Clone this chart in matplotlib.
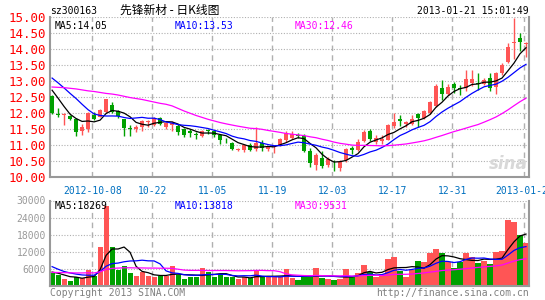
import numpy as np
import pandas as pd
import matplotlib
matplotlib.use("Agg")
import matplotlib.pyplot as plt

# daily data, 80 trading days (2012-09-20 .. 2013-01-21)
opens = [12.55, 11.99, 11.93, 11.92, 11.82, 11.45, 11.52, 11.96, 11.89, 12.04,
         12.26, 12.06, 11.81, 11.54, 11.50, 11.57, 11.72, 11.64, 11.85, 11.57,
         11.62, 11.59, 11.51, 11.46, 11.36, 11.29, 11.48, 11.43, 11.32, 11.17,
         11.06, 10.85, 10.84, 11.01, 10.87, 11.06, 10.88, 10.94, 11.00, 11.15,
         11.23, 11.33, 11.29, 10.82, 10.37, 10.61, 10.39, 10.36, 10.28, 10.54,
         10.90, 10.86, 11.14, 11.45, 11.10, 11.12, 11.17, 11.61, 11.81, 11.65,
         11.67, 11.98, 11.85, 12.00, 12.24, 12.78, 12.60, 12.92, 12.80, 12.78,
         12.93, 12.94, 12.92, 13.09, 12.83, 13.25, 13.61, 14.21, 14.36, 14.16]
highs = [12.58, 12.15, 12.02, 11.95, 11.84, 11.66, 12.03, 12.04, 12.14, 12.45,
         12.35, 12.10, 11.83, 11.62, 11.62, 11.78, 11.79, 11.87, 11.88, 11.73,
         11.77, 11.65, 11.53, 11.51, 11.41, 11.48, 11.51, 11.48, 11.35, 11.22,
         11.09, 10.90, 11.04, 11.06, 11.58, 11.15, 10.99, 11.00, 11.22, 11.46,
         11.43, 11.38, 11.34, 10.90, 10.75, 10.82, 10.62, 10.54, 10.54, 10.91,
         10.99, 11.18, 11.48, 11.50, 11.32, 11.32, 11.66, 12.00, 11.95, 11.76,
         11.95, 12.00, 12.10, 12.38, 12.90, 13.04, 12.90, 12.99, 12.88, 13.35,
         13.35, 13.25, 13.09, 13.25, 13.28, 13.56, 14.19, 14.97, 14.50, 14.24]
lows = [11.98, 11.89, 11.63, 11.80, 11.30, 11.31, 11.40, 11.78, 11.87, 12.00,
        12.00, 11.85, 11.29, 11.29, 11.40, 11.43, 11.58, 11.60, 11.63, 11.52,
        11.46, 11.31, 11.25, 11.27, 11.20, 11.25, 11.35, 11.27, 11.04, 11.07,
        10.86, 10.83, 10.78, 10.83, 10.83, 10.83, 10.83, 10.75, 10.96, 11.11,
        11.18, 11.22, 10.78, 10.33, 10.21, 10.28, 10.33, 10.20, 10.20, 10.49,
        10.72, 10.82, 11.10, 11.12, 11.03, 11.05, 11.15, 11.53, 11.60, 11.58,
        11.62, 11.58, 11.82, 11.97, 12.20, 12.42, 12.56, 12.63, 12.57, 12.70,
        12.86, 12.73, 12.88, 12.68, 12.60, 13.20, 13.58, 13.70, 13.95, 13.77]
closes = [12.02, 11.95, 11.97, 11.83, 11.40, 11.57, 12.02, 11.83, 12.10, 12.44,
          12.04, 11.90, 11.54, 11.52, 11.57, 11.75, 11.75, 11.85, 11.66, 11.68,
          11.70, 11.42, 11.33, 11.39, 11.33, 11.43, 11.43, 11.31, 11.17, 11.15,
          10.89, 10.88, 11.01, 10.86, 11.07, 10.90, 10.96, 10.96, 11.18, 11.39,
          11.35, 11.29, 10.82, 10.43, 10.70, 10.34, 10.56, 10.34, 10.49, 10.89,
          10.86, 11.11, 11.41, 11.20, 11.24, 11.19, 11.64, 11.74, 11.75, 11.72,
          11.82, 11.85, 12.07, 12.34, 12.86, 12.60, 12.83, 12.78, 12.77, 13.06,
          13.06, 12.91, 13.05, 12.78, 13.25, 13.51, 14.06, 14.24, 14.24, 14.19]
volumes = [4720, 3930, 2450, 1970, 3140, 2790, 5800, 3590, 13930, 28070,
           13930, 5800, 7030, 4720, 3590, 5070, 3590, 3240, 3590, 3590,
           7030, 3930, 2450, 3140, 3140, 6450, 5070, 3140, 4380, 3240,
           3240, 2450, 3140, 2790, 5420, 3240, 3140, 3140, 3130, 6000,
           3000, 2200, 3350, 3350, 6340, 3010, 2550, 2210, 2670, 6000,
           3130, 4700, 7400, 5000, 3240, 4300, 9500, 10300, 5500, 3400,
           5800, 8800, 8400, 11500, 13200, 11800, 8400, 6500, 8500, 11600,
           10400, 8200, 9000, 7900, 12000, 12300, 23200, 22500, 18100, 15300]

# moving-average values at the start of the window (history before the chart)
ma5_lead = [12.72, 12.47, 12.21, 11.97]
ma10_lead = [13.10, 12.95, 12.79, 12.62, 12.46, 12.28, 12.11, 11.98, 11.93]
ma30_lead = [12.82, 12.81, 12.80, 12.78, 12.76, 12.73, 12.70, 12.68, 12.65, 12.62,
             12.60, 12.57, 12.53, 12.49, 12.46, 12.43, 12.39, 12.35, 12.31, 12.28,
             12.23, 12.15, 12.07, 12.00, 11.93, 11.87, 11.81, 11.76, 11.71]
vma5_lead = [5000, 4600, 4000, 3400]
vma10_lead = [6900, 6000, 5200, 4700, 4300, 4000, 3900, 3900, 5200]
vma30_lead = [4900, 4850, 4800, 4750, 4700, 4700, 4750, 4700, 5100, 5900,
              6300, 6400, 6500, 6500, 6450, 6450, 6400, 6400, 6350, 6350,
              6300, 6000, 5700, 5600, 5600, 5600, 5550, 5550, 5550]

tick_idx = [7, 17, 27, 37, 47, 57, 67, 79]
tick_labels = ["2012-10-08", "10-22", "11-05", "11-19", "12-03", "12-17", "12-31", "2013-01-21"]
price_ticks = [10.0, 10.5, 11.0, 11.5, 12.0, 12.5, 13.0, 13.5, 14.0, 14.5, 15.0]
vol_ticks = [6000, 12000, 18000, 24000, 30000]

RED = "#ff5555"
GREEN = "#00a000"
GRID = "#b0b0b0"
FRAME = "#999999"
MONO = "DejaVu Sans Mono"


def moving(values, n, lead):
    s = pd.Series(values, dtype=float).rolling(n).mean().to_numpy()
    s[:len(lead)] = lead
    return s


x = np.arange(len(closes))
o = np.array(opens)
c = np.array(closes)
up = c >= o
colors = np.where(up, RED, GREEN)

W, H = 545, 300
fig = plt.figure(figsize=(W / 100, H / 100), dpi=100)
fig.patch.set_facecolor("white")


def px_axes(left, top, right, bottom):
    return fig.add_axes([left / W, 1 - bottom / H, (right - left) / W, (bottom - top) / H])


ax = px_axes(50, 17.3, 529, 177.2)
axv = px_axes(50, 200.5, 529, 286.4)

xlim = (-0.35, 79.5)
gx = [i - 0.3 for i in tick_idx]

for a in (ax, axv):
    a.set_xlim(*xlim)
    for s in ("left", "right", "bottom"):
        a.spines[s].set_color(FRAME)
        a.spines[s].set_linewidth(1.5)
    a.spines["top"].set_visible(False)
    for g in gx:
        a.axvline(g, color=GRID, lw=1, dashes=(4, 3), zorder=0)
    a.tick_params(length=0)

# ---- price panel
ax.set_ylim(10, 15)
for p in price_ticks[1:]:
    ax.axhline(p, color=GRID, lw=0.8, ls=(0, (1, 1.5)), zorder=0)
ax.vlines(x, lows, highs, colors=colors, lw=1, zorder=2)
body_lo = np.minimum(o, c)
body_h = np.maximum(np.abs(c - o), 0.025)
ax.bar(x, body_h, bottom=body_lo, width=0.72, color=colors, lw=0, zorder=3)

ax.plot(x, moving(closes, 5, ma5_lead), color="black", lw=0.9, zorder=4)
ax.plot(x, moving(closes, 10, ma10_lead), color="#0000ff", lw=0.9, zorder=4)
ax.plot(x, moving(closes, 30, ma30_lead), color="#ff00ff", lw=0.9, zorder=4)

ax.set_yticks(price_ticks)
ax.set_yticklabels([f"{p:.2f}" for p in price_ticks], color="#ff0000",
                   family=MONO, fontsize=9)
ax.tick_params(axis="y", pad=3)
ax.set_xticks(gx)
ax.set_xticklabels(tick_labels, color="#0070c0", family=MONO, fontsize=7)
ax.tick_params(axis="x", pad=6)

ax.text(0.5, 14.72, "MA5:14.05", color="black", family=MONO, fontsize=7, va="center")
ax.text(20.5, 14.72, "MA10:13.53", color="#0000ff", family=MONO, fontsize=7, va="center")
ax.text(40.5, 14.72, "MA30:12.46", color="#ff00ff", family=MONO, fontsize=7, va="center")
ax.text(79.2, 10.4, "sina", color="#d8d8d8", fontsize=12, style="italic",
        weight="bold", ha="right", va="center", zorder=1)

# ---- volume panel
axv.set_ylim(0, 30000)
for v in vol_ticks:
    axv.axhline(v, color=GRID, lw=0.8, ls=(0, (1, 1.5)), zorder=0)
axv.bar(x, volumes, width=0.85, color=colors, lw=0, zorder=2)
axv.plot(x, moving(volumes, 5, vma5_lead), color="black", lw=0.9, zorder=3)
axv.plot(x, moving(volumes, 10, vma10_lead), color="#0000ff", lw=0.9, zorder=3)
axv.plot(x, moving(volumes, 30, vma30_lead), color="#ff00ff", lw=0.9, zorder=3)
axv.set_yticks(vol_ticks)
axv.set_yticklabels([str(v) for v in vol_ticks], color="#999999", family=MONO, fontsize=7)
axv.tick_params(axis="y", pad=3)
axv.set_xticks([])

axv.text(0.5, 28000, "MA5:18269", color="black", family=MONO, fontsize=7, va="center")
axv.text(20.5, 28000, "MA10:13818", color="#0000ff", family=MONO, fontsize=7, va="center")
axv.text(40.5, 28000, "MA30:9531", color="#ff00ff", family=MONO, fontsize=7, va="center")

# ---- header / footer
fig.text(50 / W, 1 - 11 / H, "sz300163", family=MONO, fontsize=7, va="center")
fig.text(120 / W, 1 - 10 / H, "先锋新材 - 日K线图", family=["Noto Sans CJK SC", "DejaVu Sans"],
         fontsize=8.5, ha="left", va="center")
fig.text(529 / W, 1 - 11 / H, "2013-01-21 15:01:49", family=MONO, fontsize=7,
         ha="right", va="center")
fig.text(50 / W, 1 - 293 / H, "Copyright 2013 SINA.COM", family=MONO, fontsize=7,
         color="#808080", va="center")
fig.text(529 / W, 1 - 293 / H, "http://finance.sina.com.cn", family=MONO, fontsize=7,
         color="#808080", ha="right", va="center")

fig.savefig("out.png", dpi=100)
